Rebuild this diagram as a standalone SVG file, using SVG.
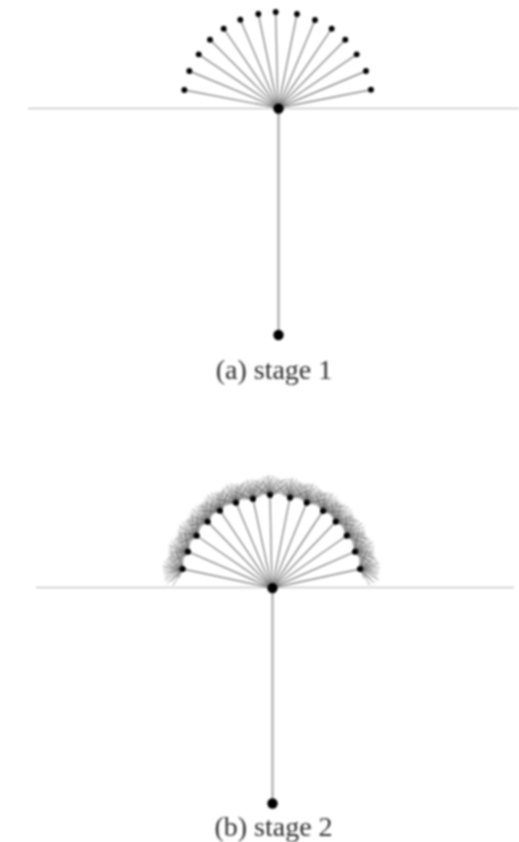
<svg xmlns="http://www.w3.org/2000/svg" width="519" height="842" viewBox="0 0 519 842">
<style>
.edge{stroke:#8c8c8c;stroke-width:1.4;fill:none}
.axis{stroke:#c8c8c8;stroke-width:1.4;fill:none}
.stem{stroke:#b0b0b0;stroke-width:2.4;fill:none}
.leaf{stroke:#555;stroke-width:.5;fill:none}
.cap{font-family:"Liberation Serif","Times New Roman",serif;font-size:28px;fill:#303030;text-anchor:middle}
</style>
<defs>
<filter id="soft" x="-5%" y="-5%" width="110%" height="110%"><feGaussianBlur stdDeviation="0.9"/></filter>
<g id="fan"><path class="leaf" d="M0 0L-18-6M0 0L-17-12M0 0L-15-9M0 0L-15-15M0 0L-12-8M0 0L-12-15.500M0 0L-10-5M0 0L-9-17M0 0L-10-2M0 0L-7-14M0 0L-6-18.500M0 0L-5-11M0 0L-3-19M0 0L-2-13M0 0L-1-20M0 0L1-16M0 0L3-19.500M0 0L4-12M0 0L6-18M0 0L8-14M0 0L9-17M0 0L10-2M0 0L10-5M0 0L12-15M0 0L12-8M0 0L15-15.500M0 0L15-9M0 0L17-11M0 0L18-6"/></g>
</defs>
<rect width="519" height="842" fill="#fff"/>
<g id="connectors" filter="url(#soft)">
<path class="axis" d="M28 108.500H519M36 587.500H514"/>
<path class="stem" d="M278.500 109V335M272.500 588V803"/>
<path class="edge" d="M278 108L184.300 90M278 108L189.300 71M278 108L198.700 54.300M278 108L210 39.700M278 108L223.700 28.700M278 108L240.300 19.700M278 108L258.300 14M278 108L275.700 12M278 108L297 14M278 108L315 20M278 108L331.700 28.700M278 108L345.300 39.700M278 108L356.700 54.300M278 108L366 71M278 108L371 89.700"/>
<path class="edge" d="M272 588L182.700 569M272 588L188 551.700M272 588L196.700 535.700M272 588L207.700 521.700M272 588L220 510.700M272 588L236 502.700M272 588L253 499M272 588L270 495M272 588L290 497.700M272 588L306.700 502.700M272 588L323 511M272 588L335.700 521.700M272 588L346.700 535.700M272 588L355 551.700M272 588L360 569"/>
</g>
<g id="fans" filter="url(#soft)">
<use href="#fan" transform="translate(182.700 569) rotate(-78)"/>
<use href="#fan" transform="translate(188 551.700) rotate(-67)"/>
<use href="#fan" transform="translate(196.700 535.700) rotate(-56)"/>
<use href="#fan" transform="translate(207.700 521.700) rotate(-45)"/>
<use href="#fan" transform="translate(220 510.700) rotate(-34)"/>
<use href="#fan" transform="translate(236 502.700) rotate(-23)"/>
<use href="#fan" transform="translate(253 499) rotate(-12)"/>
<use href="#fan" transform="translate(270 495) rotate(-1)"/>
<use href="#fan" transform="translate(290 497.700) rotate(11)"/>
<use href="#fan" transform="translate(306.700 502.700) rotate(22)"/>
<use href="#fan" transform="translate(323 511) rotate(33)"/>
<use href="#fan" transform="translate(335.700 521.700) rotate(44)"/>
<use href="#fan" transform="translate(346.700 535.700) rotate(55)"/>
<use href="#fan" transform="translate(355 551.700) rotate(66)"/>
<use href="#fan" transform="translate(360 569) rotate(77)"/>
</g>
<g id="nodes-a" fill="#000" filter="url(#soft)">
<circle id="a-root" cx="278.500" cy="108.500" r="5.200"/>
<circle id="a-bottom" cx="278.500" cy="335" r="5.200"/>
<circle id="a1" cx="184.300" cy="90" r="2.900"/>
<circle id="a2" cx="189.300" cy="71" r="2.900"/>
<circle id="a3" cx="198.700" cy="54.300" r="2.900"/>
<circle id="a4" cx="210" cy="39.700" r="2.900"/>
<circle id="a5" cx="223.700" cy="28.700" r="2.900"/>
<circle id="a6" cx="240.300" cy="19.700" r="2.900"/>
<circle id="a7" cx="258.300" cy="14" r="2.900"/>
<circle id="a8" cx="275.700" cy="12" r="2.900"/>
<circle id="a9" cx="297" cy="14" r="2.900"/>
<circle id="a10" cx="315" cy="20" r="2.900"/>
<circle id="a11" cx="331.700" cy="28.700" r="2.900"/>
<circle id="a12" cx="345.300" cy="39.700" r="2.900"/>
<circle id="a13" cx="356.700" cy="54.300" r="2.900"/>
<circle id="a14" cx="366" cy="71" r="2.900"/>
<circle id="a15" cx="371" cy="89.700" r="2.900"/>
</g>
<g id="nodes-b" fill="#000" filter="url(#soft)">
<circle id="b-root" cx="272.500" cy="588" r="5.200"/>
<circle id="b-bottom" cx="272.500" cy="803.500" r="5.200"/>
<circle id="b1" cx="182.700" cy="569" r="3"/>
<circle id="b2" cx="188" cy="551.700" r="3"/>
<circle id="b3" cx="196.700" cy="535.700" r="3"/>
<circle id="b4" cx="207.700" cy="521.700" r="3"/>
<circle id="b5" cx="220" cy="510.700" r="3"/>
<circle id="b6" cx="236" cy="502.700" r="3"/>
<circle id="b7" cx="253" cy="499" r="3"/>
<circle id="b8" cx="270" cy="495" r="3"/>
<circle id="b9" cx="290" cy="497.700" r="3"/>
<circle id="b10" cx="306.700" cy="502.700" r="3"/>
<circle id="b11" cx="323" cy="511" r="3"/>
<circle id="b12" cx="335.700" cy="521.700" r="3"/>
<circle id="b13" cx="346.700" cy="535.700" r="3"/>
<circle id="b14" cx="355" cy="551.700" r="3"/>
<circle id="b15" cx="360" cy="569" r="3"/>
</g>
<g id="captions" filter="url(#soft)">
<text class="cap" x="274" y="379">(a) stage 1</text>
<text class="cap" x="273.500" y="836">(b) stage 2</text>
</g>
</svg>
